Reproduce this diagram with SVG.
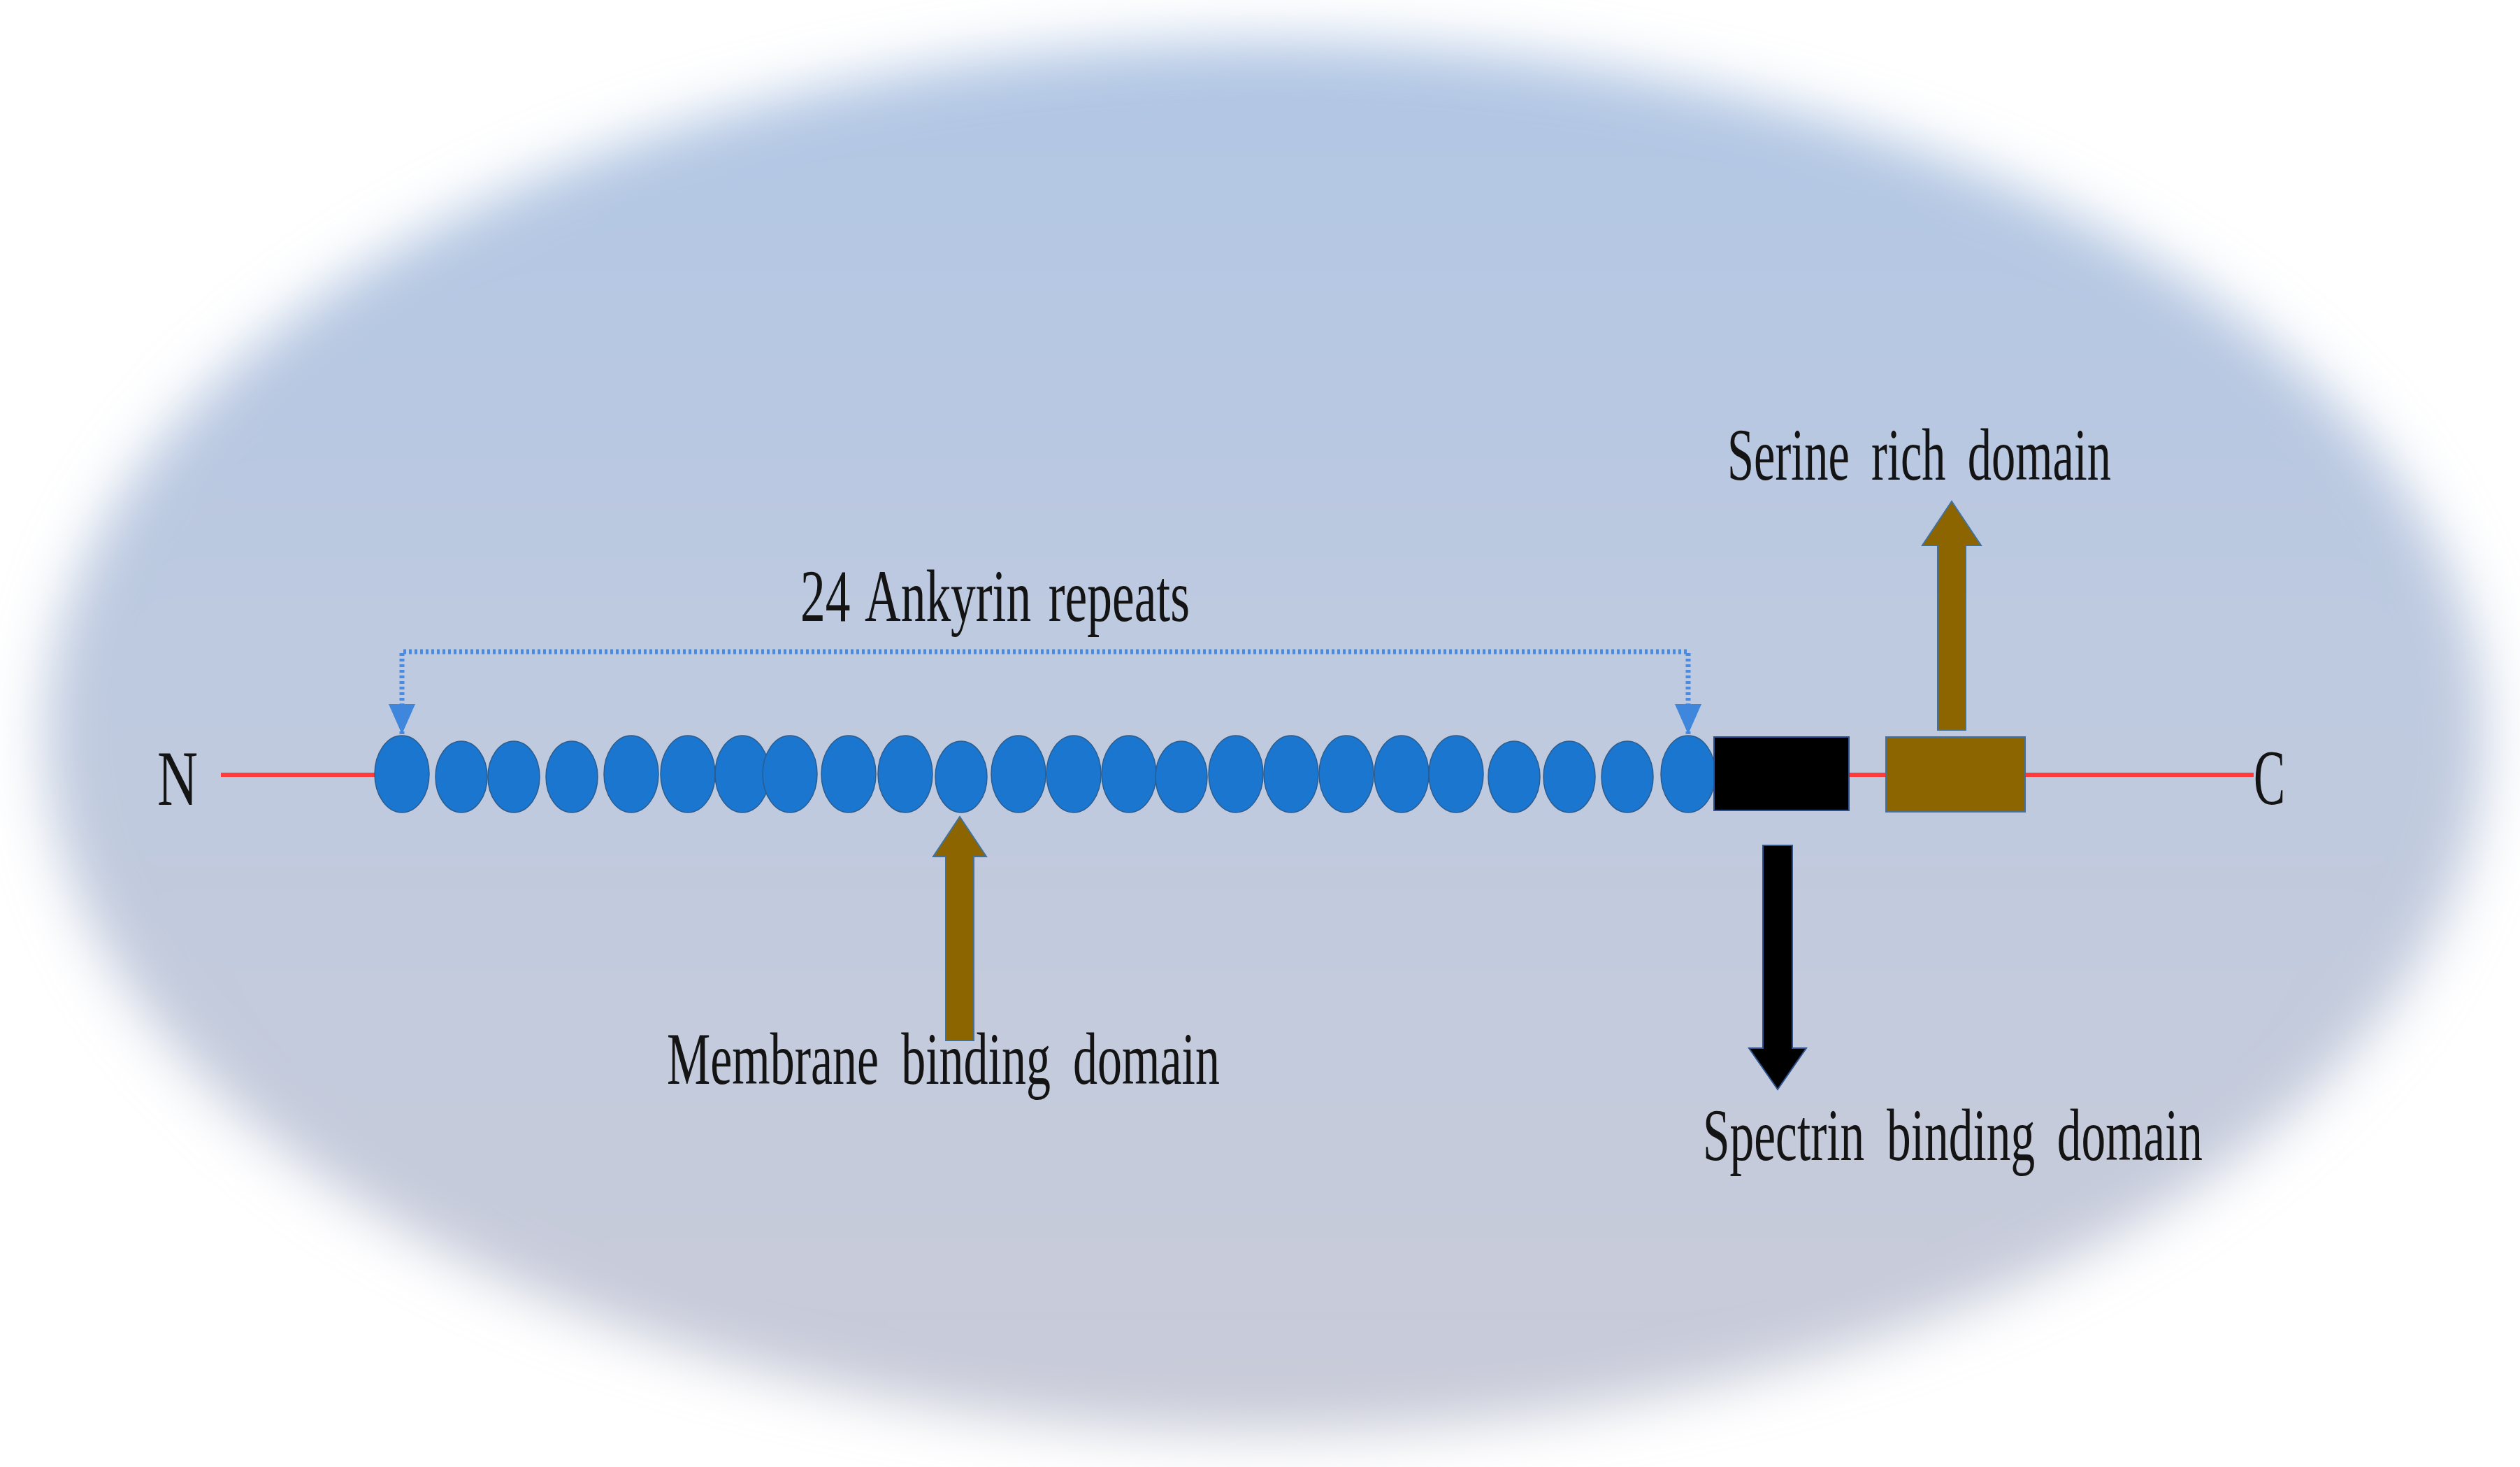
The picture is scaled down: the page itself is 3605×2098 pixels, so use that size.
<svg xmlns="http://www.w3.org/2000/svg" width="3605" height="2098" viewBox="0 0 3605 2098">
  <style>
    .lbl { font-family: "Liberation Serif", "Times New Roman", serif; font-size: 106px; fill: #141414; word-spacing: 22px; }
    .term { font-family: "Liberation Serif", "Times New Roman", serif; font-size: 112px; fill: #141414; }
    .rep { fill: #1B76CF; stroke: #2A5C8F; stroke-width: 1.5; }
    .backbone { stroke: #FF3B3B; stroke-width: 6; fill: none; }
    .brown { fill: #8C6400; stroke: #41719C; stroke-width: 2; }
    .black { fill: #000000; stroke: #2F528F; stroke-width: 2; }
  </style>
  <defs>
    <linearGradient id="bg" x1="0" y1="0" x2="0" y2="1">
      <stop offset="0" stop-color="#B1C6E4"/>
      <stop offset="0.5" stop-color="#BFCADF"/>
      <stop offset="1" stop-color="#C9CBD8"/>
    </linearGradient>
    <filter id="soft" x="-10%" y="-10%" width="120%" height="120%">
      <feGaussianBlur stdDeviation="40"/>
    </filter>
    <marker id="tri" markerUnits="userSpaceOnUse" markerWidth="44" markerHeight="40" refX="43" refY="19" orient="auto">
      <path d="M0,0 L43,19 L0,38 z" fill="#3F87DD"/>
    </marker>
    <marker id="triS" markerUnits="userSpaceOnUse" markerWidth="44" markerHeight="40" refX="43" refY="19" orient="auto-start-reverse">
      <path d="M0,0 L43,19 L0,38 z" fill="#3F87DD"/>
    </marker>
  </defs>

  <rect x="0" y="0" width="3605" height="2098" fill="#FFFFFF"/>
  <ellipse cx="1810" cy="1054" rx="1745" ry="995" fill="url(#bg)" filter="url(#soft)"/>

  <g id="backbone">
    <line class="backbone" x1="316" y1="1108" x2="540" y2="1108"/>
    <line class="backbone" x1="2645" y1="1108" x2="2698" y2="1108"/>
    <line class="backbone" x1="2897" y1="1108" x2="3224" y2="1108"/>
  </g>

  <g id="ankyrin-repeats">
    <ellipse class="rep" cx="575" cy="1107" rx="39" ry="55"/>
    <ellipse class="rep" cx="660" cy="1111" rx="37" ry="51"/>
    <ellipse class="rep" cx="735" cy="1111" rx="37" ry="51"/>
    <ellipse class="rep" cx="818" cy="1111" rx="37" ry="51"/>
    <ellipse class="rep" cx="903" cy="1107" rx="39" ry="55"/>
    <ellipse class="rep" cx="984" cy="1107" rx="39" ry="55"/>
    <ellipse class="rep" cx="1062" cy="1107" rx="39" ry="55"/>
    <ellipse class="rep" cx="1130" cy="1107" rx="39" ry="55"/>
    <ellipse class="rep" cx="1214" cy="1107" rx="39" ry="55"/>
    <ellipse class="rep" cx="1295" cy="1107" rx="39" ry="55"/>
    <ellipse class="rep" cx="1375" cy="1111" rx="37" ry="51"/>
    <ellipse class="rep" cx="1457" cy="1107" rx="39" ry="55"/>
    <ellipse class="rep" cx="1536" cy="1107" rx="39" ry="55"/>
    <ellipse class="rep" cx="1615" cy="1107" rx="39" ry="55"/>
    <ellipse class="rep" cx="1690" cy="1111" rx="37" ry="51"/>
    <ellipse class="rep" cx="1768" cy="1107" rx="39" ry="55"/>
    <ellipse class="rep" cx="1847" cy="1107" rx="39" ry="55"/>
    <ellipse class="rep" cx="1926" cy="1107" rx="39" ry="55"/>
    <ellipse class="rep" cx="2005" cy="1107" rx="39" ry="55"/>
    <ellipse class="rep" cx="2083" cy="1107" rx="39" ry="55"/>
    <ellipse class="rep" cx="2166" cy="1111" rx="37" ry="51"/>
    <ellipse class="rep" cx="2245" cy="1111" rx="37" ry="51"/>
    <ellipse class="rep" cx="2328" cy="1111" rx="37" ry="51"/>
    <ellipse class="rep" cx="2415" cy="1107" rx="39" ry="55"/>
  </g>

  <g id="spectrin-domain">
    <rect class="black" x="2452" y="1054" width="193" height="105"/>
  </g>

  <g id="serine-domain">
    <rect class="brown" x="2698" y="1054" width="199" height="107"/>
  </g>

  <g id="connectors">
    <path d="M575,1050 V932 H2415 V1050" fill="none" stroke="#4A8AE0" stroke-width="7" stroke-dasharray="4 4" marker-start="url(#triS)" marker-end="url(#tri)"/>
    <polygon class="brown" points="1353,1488 1353,1225 1335,1225 1373,1168 1411,1225 1393,1225 1393,1488"/>
    <polygon class="black" points="2522,1209 2564,1209 2564,1499 2584,1499 2543,1558 2502,1499 2522,1499"/>
    <polygon class="brown" points="2772,1044 2772,780 2750,780 2792,717 2834,780 2812,780 2812,1044"/>
  </g>

  <g id="labels">
    <text class="term" x="225" y="1151" textLength="58" lengthAdjust="spacingAndGlyphs">N</text>
    <text class="term" x="3224" y="1150" textLength="45" lengthAdjust="spacingAndGlyphs">C</text>
    <text class="lbl" x="1145" y="888" textLength="557" lengthAdjust="spacingAndGlyphs" style="word-spacing:10px">24 Ankyrin repeats</text>
    <text class="lbl" x="2471" y="686" textLength="549" lengthAdjust="spacingAndGlyphs">Serine rich domain</text>
    <text class="lbl" x="954" y="1550" textLength="791" lengthAdjust="spacingAndGlyphs">Membrane binding domain</text>
    <text class="lbl" x="2436" y="1659" textLength="715" lengthAdjust="spacingAndGlyphs">Spectrin binding domain</text>
  </g>
</svg>
